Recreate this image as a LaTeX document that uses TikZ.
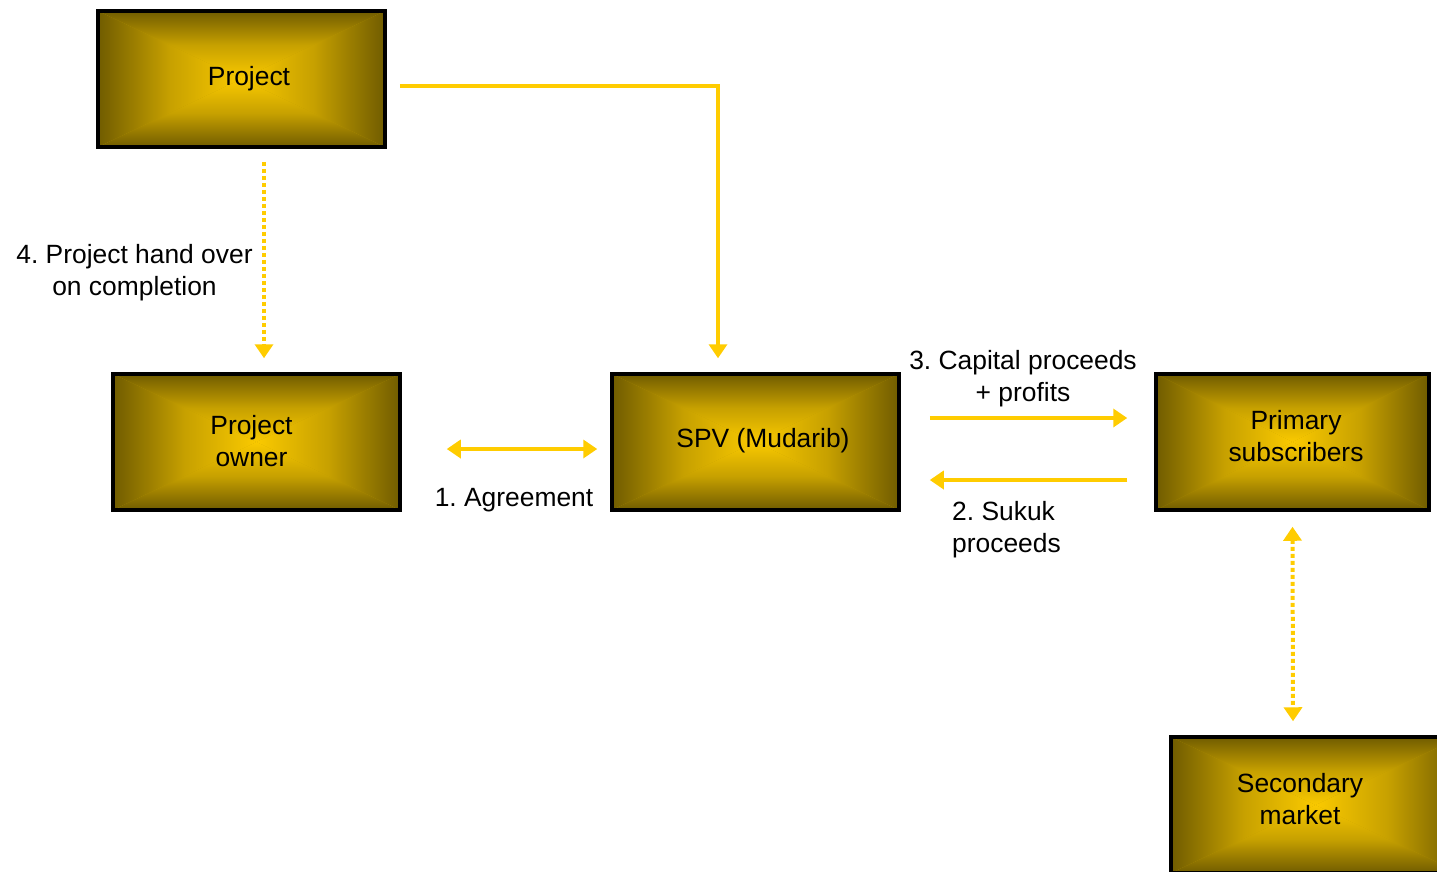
\documentclass[tikz,border=0pt]{standalone}
\usepackage{fontspec}
\setmainfont{Liberation Sans}
\frenchspacing
\usetikzlibrary{arrows.meta}
\definecolor{midc}{RGB}{190,155,0}
\definecolor{arrc}{RGB}{255,204,0}
\pgfdeclareverticalshading{vgold}{100bp}{rgb(0bp)=(0.98,0.79,0); rgb(25bp)=(0.98,0.79,0); rgb(50bp)=(0.78,0.63,0); rgb(75bp)=(0.44,0.36,0); rgb(100bp)=(0.44,0.36,0)}
\pgfdeclarehorizontalshading{hgold}{100bp}{rgb(0bp)=(0.44,0.36,0); rgb(25bp)=(0.44,0.36,0); rgb(50bp)=(0.78,0.63,0); rgb(75bp)=(0.98,0.79,0); rgb(100bp)=(0.98,0.79,0)}
\tikzset{
  box/.style={draw=black, line width=3.5pt, minimum width=287pt, minimum height=136pt,
    inner sep=0pt,
    path picture={
      \fill[midc] (path picture bounding box.south west) rectangle (path picture bounding box.north east);
      \shade[shading=vgold] (path picture bounding box.north west) -- (path picture bounding box.north east) -- (path picture bounding box.center) -- cycle;
      \shade[shading=vgold, shading angle=180] (path picture bounding box.south west) -- (path picture bounding box.south east) -- (path picture bounding box.center) -- cycle;
      \shade[shading=hgold] (path picture bounding box.north west) -- (path picture bounding box.south west) -- (path picture bounding box.center) -- cycle;
      \shade[shading=hgold, shading angle=180] (path picture bounding box.north east) -- (path picture bounding box.south east) -- (path picture bounding box.center) -- cycle;
    }},
  lbl/.style={align=center, inner sep=0pt, font=\fontsize{26.4}{32}\selectfont},
  arr/.style={draw=arrc, line width=3.5pt},
  dotline/.style={draw=arrc, line width=4pt, dash pattern=on 4pt off 3pt},
  tip/.style={-{Triangle[length=14pt,width=18pt]}},
  tips/.style={{Triangle[length=14pt,width=18pt]}-{Triangle[length=14pt,width=18pt]}},
}
\begin{document}
\begin{tikzpicture}[x=1pt,y=-1pt]
\useasboundingbox (0,0) rectangle (1437,871);
\clip (0,0) rectangle (1437,871);
\node[box, label={[lbl, xshift=7.5pt]center:Project}] (proj) at (241.5,79) {};
\node[box, label={[lbl, xshift=-5pt, yshift=1pt]center:Project\\owner}] (owner) at (256.5,442) {};
\node[box, label={[lbl, xshift=7.5pt, yshift=1pt]center:SPV (Mudarib)}] (spv) at (755.5,442) {};
\node[box, minimum width=273pt, label={[lbl, xshift=3.5pt, yshift=6pt]center:Primary\\subscribers}] (prim) at (1292.5,442) {};
\node[box, minimum width=289pt, label={[lbl, xshift=-15.5pt, yshift=6pt]center:Secondary\\market}] (sec) at (1315.5,805) {};

\draw[arr, tip] ([xshift=13pt,yshift=-7pt]proj.east) -| ([xshift=-37.5pt,yshift=14pt]spv.north);
\draw[dotline, tip] ([xshift=22.5pt,yshift=-13pt]proj.south) -- ([xshift=7.5pt,yshift=14pt]owner.north);
\draw[arr, tips] ([xshift=45pt,yshift=-7pt]owner.east) -- ([xshift=-13pt,yshift=-7pt]spv.west);
\draw[arr, tip] ([xshift=29pt,yshift=24pt]spv.east) -- ([xshift=-27pt,yshift=24pt]prim.west);
\draw[arr, tip] ([xshift=-27pt,yshift=-38pt]prim.west) -- ([xshift=29pt,yshift=-38pt]spv.east);
\draw[dotline, tips] ([yshift=-15pt]prim.south) -- ([xshift=-22.5pt,yshift=14pt]sec.north);

\node[lbl] (l4) at (134.5,273) {4. Project hand over\\on completion};
\node[lbl] (l1) at (514,500) {1. Agreement};
\node[lbl] (l3) at (1023,379) {3. Capital proceeds\\+ profits};
\node[lbl, align=left, anchor=west] (l2) at (952,530) {2. Sukuk\\proceeds};
\end{tikzpicture}
\end{document}
